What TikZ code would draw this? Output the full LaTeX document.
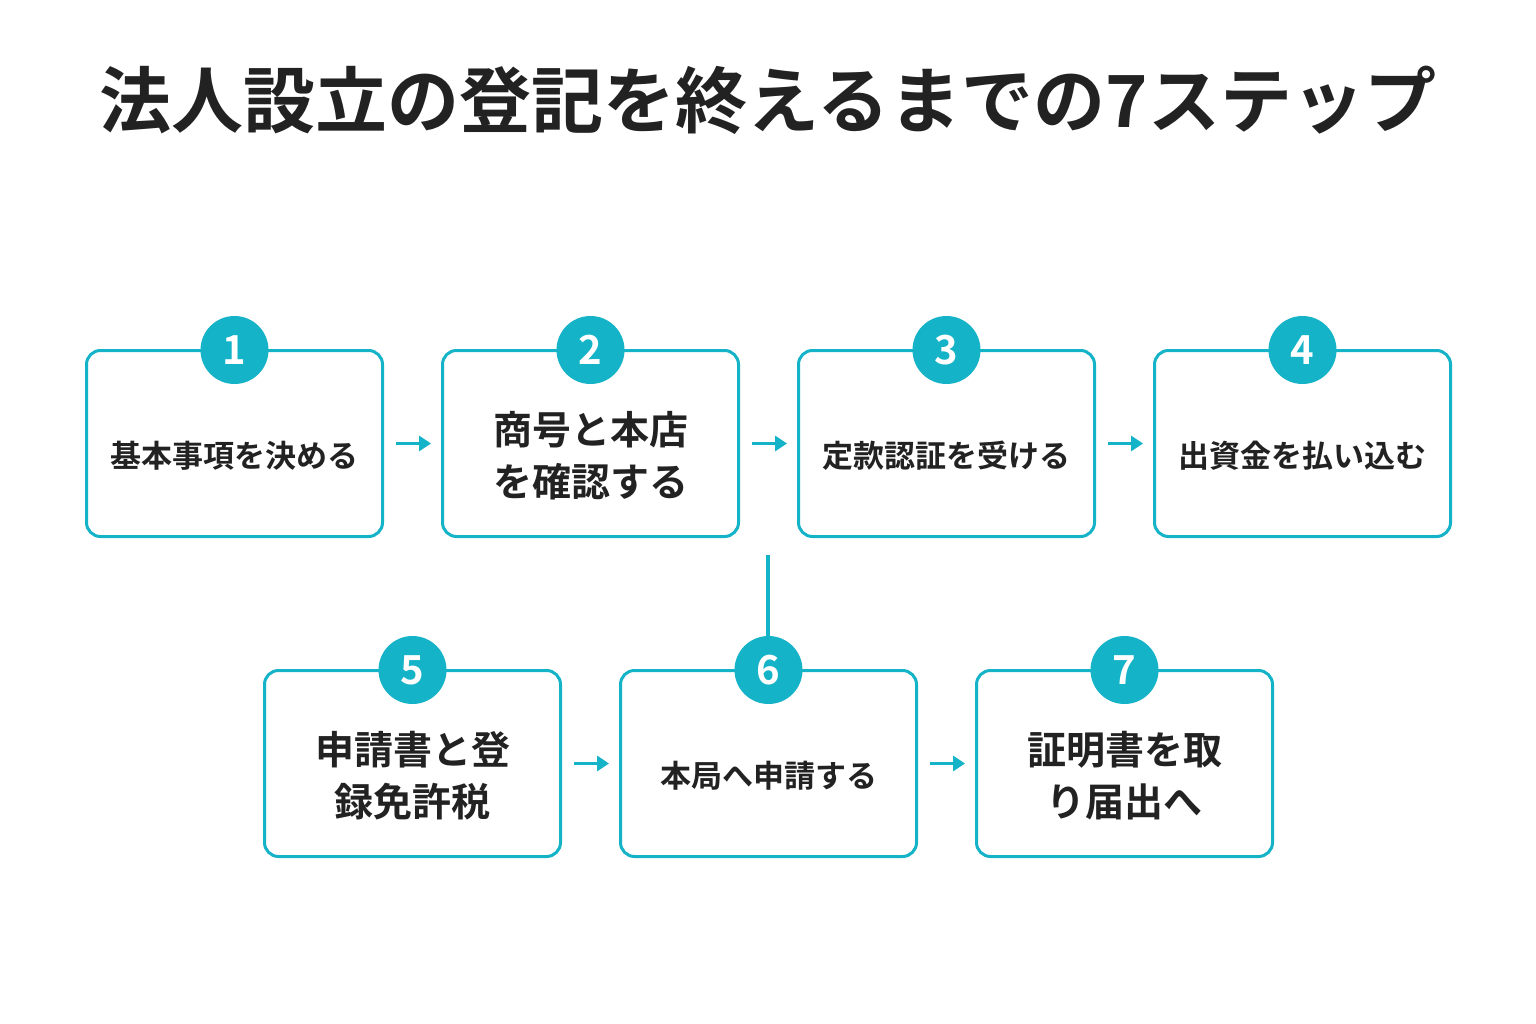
\documentclass[tikz,border=0pt]{standalone}
\usepackage{fontspec}
\newfontfamily\jp{Noto Sans CJK JP}[BoldFont={Noto Sans CJK JP Bold}]
\definecolor{cy}{HTML}{14B3C7}
\definecolor{tx}{HTML}{222222}
\begin{document}
\begin{tikzpicture}[x=1pt,y=-1pt,
 box/.style={draw=cy,line width=3pt,rounded corners=14pt,minimum width=296pt,minimum height=186pt,fill=white,inner sep=0},
 num/.style={circle,fill=cy,minimum size=68pt,inner sep=0,text=white,font=\jp\bfseries\fontsize{40}{40}\selectfont},
 t1/.style={text=tx,font=\jp\bfseries\fontsize{31}{31}\selectfont},
 t2/.style={text=tx,font=\jp\bfseries\fontsize{39}{52}\selectfont,align=center},
 arr/.style={draw=cy,line width=3.5pt,-{Triangle[length=12pt,width=15pt]}}]
\useasboundingbox (0,0) rectangle (1536,1024);
\usetikzlibrary{arrows.meta}
\node[text=tx,font=\jp\bfseries\fontsize{72}{72}\selectfont] (title) at (768,100) {法人設立の登記を終えるまでの7ステップ};
\node[box] (b1) at (234.5,443.5) {};
\node[box] (b2) at (590.5,443.5) {};
\node[box] (b3) at (946.5,443.5) {};
\node[box] (b4) at (1302.5,443.5) {};
\node[box] (b5) at (412.5,763.5) {};
\node[box] (b6) at (768.5,763.5) {};
\node[box] (b7) at (1124.5,763.5) {};
\node[t1] (l1) at (234.5,456) {基本事項を決める};
\node[t2] (l2) at (590.5,456) {商号と本店\\を確認する};
\node[t1] (l3) at (946.5,456) {定款認証を受ける};
\node[t1] (l4) at (1302.5,456) {出資金を払い込む};
\node[t2] (l5) at (412.5,776) {申請書と登\\録免許税};
\node[t1] (l6) at (768.5,776) {本局へ申請する};
\node[t2] (l7) at (1124.5,776) {証明書を取\\り届出へ};
\coordinate (v1) at (768,555);
\node[num] (n1) at (234.5,350) {1};
\node[num] (n2) at (590.5,350) {2};
\node[num] (n3) at (946.5,350) {3};
\node[num] (n4) at (1302.5,350) {4};
\node[num] (n5) at (412.5,670) {5};
\node[num] (n7) at (1124.5,670) {7};
\draw[cy,line width=3.5pt] (v1) -- (768,640);
\node[num] (n6) at (768.5,670) {6};
\draw[arr] ([xshift=12pt]b1.east) -- ([xshift=47pt]b1.east);
\draw[arr] ([xshift=12pt]b2.east) -- ([xshift=47pt]b2.east);
\draw[arr] ([xshift=12pt]b3.east) -- ([xshift=47pt]b3.east);
\draw[arr] ([xshift=12pt]b5.east) -- ([xshift=47pt]b5.east);
\draw[arr] ([xshift=12pt]b6.east) -- ([xshift=47pt]b6.east);
\end{tikzpicture}
\end{document}
